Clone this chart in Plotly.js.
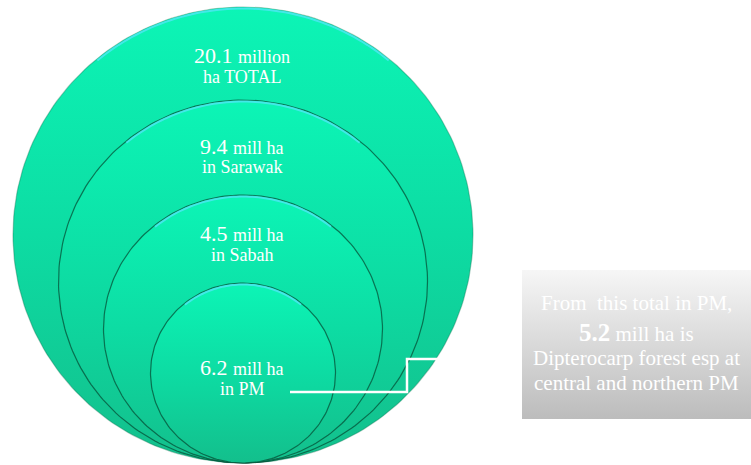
<!DOCTYPE html>
<html>
<head>
<meta charset="utf-8">
<script src="https://cdn.plot.ly/plotly-3.0.1.min.js"></script>
<style>html,body{margin:0;padding:0;background:#fff;}#chart{width:751px;height:465px;}</style>
</head>
<body>
<div id="chart"></div>
<script>
// ---- data ----
var values = ['20.1', '9.4', '4.5', '6.2'];
var units = ['million', 'mill ha', 'mill ha', 'mill ha'];
var regions = ['ha TOTAL', 'in Sarawak', 'in Sabah', 'in PM'];
var noteLines = ['From  this total in PM,', 'mill ha is', 'Dipterocarp forest esp at', 'central and northern PM'];
var noteValue = '5.2';

// ---- layout geometry (pixels) ----
var cx = 243, bottom = 463;
var widths = [460, 369, 279, 185];
var heights = [456, 363, 268, 180];
var line1Y = [55, 146, 233, 367];
var line2Y = [77, 167, 255, 389];
var labelX = 242;
var box = {x0: 522, x1: 751, y0: 270, y1: 419};
var serif = "'Liberation Serif', 'Times New Roman', 'DejaVu Serif', serif";

var traces = [];
var shapes = [];
function ellipse(rx, ry, cy, a0, a1, n) {
  var xs = [], ys = [];
  for (var i = 0; i <= n; i++) {
    var t = a0 + (a1 - a0) * i / n;
    xs.push(cx + rx * Math.cos(t));
    ys.push(cy + ry * Math.sin(t));
  }
  return {x: xs, y: ys};
}
for (var k = 0; k < widths.length; k++) {
  var rx = widths[k] / 2, ry = heights[k] / 2, cy = bottom - ry;
  var full = ellipse(rx, ry, cy, 0, 2 * Math.PI, 240);
  traces.push({
    type: 'scatter', mode: 'lines', x: full.x, y: full.y, fill: 'toself',
    fillgradient: {type: 'vertical', colorscale: [[0, '#13bf8c'], [0.5, '#0ddca3'], [1, '#0cf5b6']]},
    line: {color: k === 0 ? 'rgba(10,110,75,0.35)' : 'rgba(5,80,55,0.75)', width: 1.2},
    hoverinfo: 'skip'
  });
  // top highlight arc as an SVG path shape
  var arc = ellipse(rx - 1.5, ry - 1.5, cy, -Math.PI * 0.72, -Math.PI * 0.28, 60);
  var p = 'M' + arc.x[0] + ',' + arc.y[0];
  for (var j = 1; j < arc.x.length; j++) p += ' L' + arc.x[j] + ',' + arc.y[j];
  shapes.push({type: 'path', xref: 'x', yref: 'y', path: p, layer: 'above',
    line: {color: 'rgba(80,230,245,0.8)', width: 2}});
}
// note box
traces.push({
  type: 'scatter', mode: 'lines',
  x: [box.x0, box.x1, box.x1, box.x0, box.x0],
  y: [box.y0, box.y0, box.y1, box.y1, box.y0],
  fill: 'toself',
  fillgradient: {type: 'vertical', colorscale: [[0, '#bcbcbc'], [1, '#f6f6f6']]},
  line: {width: 0, color: 'rgba(0,0,0,0)'}, hoverinfo: 'skip'
});
// connector
traces.push({
  type: 'scatter', mode: 'lines',
  x: [290, 407, 407, box.x0], y: [392, 392, 359, 359],
  line: {color: '#ffffff', width: 2.5}, hoverinfo: 'skip'
});

var annotations = [];
for (var i = 0; i < values.length; i++) {
  annotations.push({
    x: labelX, y: line1Y[i], xref: 'x', yref: 'y', showarrow: false, borderpad: 0,
    text: values[i] + ' <span style="font-size:18px">' + units[i] + '</span>',
    font: {family: serif, size: 22, color: '#ffffff'}
  });
  annotations.push({
    x: labelX, y: line2Y[i], xref: 'x', yref: 'y', showarrow: false, borderpad: 0,
    text: regions[i], font: {family: serif, size: 18, color: '#ffffff'}
  });
}
var noteY = [303, 332, 358, 383];
var noteX = 636;
annotations.push({x: noteX, y: noteY[0], xref: 'x', yref: 'y', showarrow: false, borderpad: 0,
  text: noteLines[0], font: {family: serif, size: 21, color: '#ffffff'}});
annotations.push({x: noteX, y: noteY[1], xref: 'x', yref: 'y', showarrow: false, borderpad: 0,
  text: '<b><span style="font-size:25px">' + noteValue + '</span></b> ' + noteLines[1],
  font: {family: serif, size: 21, color: '#ffffff'}});
annotations.push({x: noteX, y: noteY[2], xref: 'x', yref: 'y', showarrow: false, borderpad: 0,
  text: noteLines[2], font: {family: serif, size: 21, color: '#ffffff'}});
annotations.push({x: noteX, y: noteY[3], xref: 'x', yref: 'y', showarrow: false, borderpad: 0,
  text: noteLines[3], font: {family: serif, size: 21, color: '#ffffff'}});

var layout = {
  width: 751, height: 465,
  margin: {l: 0, r: 0, t: 0, b: 0},
  paper_bgcolor: '#ffffff', plot_bgcolor: '#ffffff',
  showlegend: false,
  xaxis: {range: [0, 751], visible: false, fixedrange: true},
  yaxis: {range: [465, 0], visible: false, fixedrange: true},
  shapes: shapes,
  annotations: annotations
};
Plotly.newPlot('chart', traces, layout, {staticPlot: true, displayModeBar: false});
</script>
</body>
</html>
